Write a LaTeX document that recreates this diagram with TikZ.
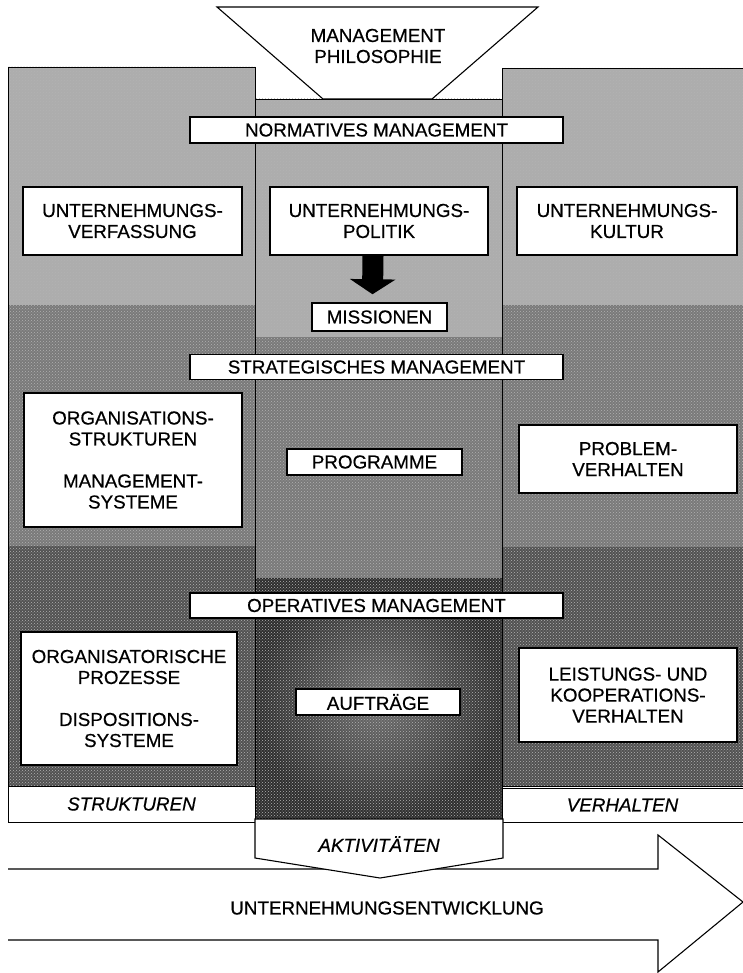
\documentclass[tikz,border=0pt]{standalone}
\usepackage{fontspec}
\setmainfont{Liberation Sans}[FakeBold=0.5]
\usepackage{tikz}
\usetikzlibrary{patterns,arrows.meta,calc,positioning}
\newcommand{\schrift}{\fontsize{18.8}{21}\selectfont}
\tikzset{
  kasten/.style={draw=black,fill=white,line width=1.5pt,align=center,inner sep=0pt,font=\schrift},
  normfl/.style={fill=black!32},
  stratfl/.style={fill=black!52},
  operfl/.style={fill=black!68},
  rauh/.style={pattern=crosshatch dots,pattern color=white!70!black},
  saum/.style={draw=black,line width=0.9pt},
  umriss/.style={draw=black,line width=1.1pt,fill=white}
}

\begin{document}
\begin{tikzpicture}[x=1pt,y=-1pt]
\useasboundingbox (0,0) rectangle (743,973);
% ebenen
\fill[normfl] (8,67) rectangle (255,305);
\fill[normfl] (255,99) rectangle (502,337);
\fill[normfl] (502,68) rectangle (743,305);
\fill[stratfl] (8,305) rectangle (255,546);
\fill[stratfl] (255,337) rectangle (502,578);
\fill[stratfl] (502,305) rectangle (743,547);
\fill[operfl] (8,546) rectangle (255,786);
\shade[inner color=black!55,outer color=black!82] (255,578) rectangle (502,819);
\fill[operfl] (502,547) rectangle (743,786);
\fill[rauh] (8,67) rectangle (255,786);
\fill[rauh] (255,99) rectangle (502,819);
\fill[rauh] (502,68) rectangle (743,786);
\draw[saum] (8,67) rectangle (255,786);
\draw[saum] (255,99) rectangle (502,819);
\draw[saum] (502,68) rectangle (743,786);
% trichter
\draw[umriss] (217,7) -- (538,7) -- (432,99) -- (323,99) -- cycle;
\node[font=\schrift,align=center] (philo) at (378,46) {MANAGEMENT\\PHILOSOPHIE};
% normativ
\node[kasten,minimum width=373pt,minimum height=26pt] (normativ) at (376.5,130) {NORMATIVES MANAGEMENT};
\node[kasten,minimum width=219pt,minimum height=68pt] (verfassung) at (132.5,221) {UNTERNEHMUNGS-\\VERFASSUNG};
\node[kasten,minimum width=218pt,minimum height=68pt] (politik) at (379,221) {UNTERNEHMUNGS-\\POLITIK};
\node[kasten,minimum width=220pt,minimum height=68pt] (kultur) at (627,221) {UNTERNEHMUNGS-\\KULTUR};
\node[kasten,minimum width=135pt,minimum height=28pt] (missionen) at (379.5,317) {MISSIONEN};
\draw[line width=21pt,-{Triangle[width=45pt,length=15pt]}] ([xshift=-6pt]politik.south) -- ([xshift=-7pt,yshift=8pt]missionen.north);
% strategisch
\node[kasten,minimum width=373pt,minimum height=25pt] (strategisch) at (376.5,367) {STRATEGISCHES MANAGEMENT};
\node[kasten,minimum width=218pt,minimum height=134pt] (organisation) at (133,460) {ORGANISATIONS-\\STRUKTUREN\\[21pt]MANAGEMENT-\\SYSTEME};
\node[kasten,minimum width=175pt,minimum height=26pt] (programme) at (374.5,462) {PROGRAMME};
\node[kasten,minimum width=218pt,minimum height=68pt] (problem) at (628,459) {PROBLEM-\\VERHALTEN};
% operativ
\node[kasten,minimum width=373pt,minimum height=25pt] (operativ) at (376.5,605.5) {OPERATIVES MANAGEMENT};
\node[kasten,minimum width=216pt,minimum height=133pt] (prozesse) at (129,698.5) {ORGANISATORISCHE\\PROZESSE\\[21pt]DISPOSITIONS-\\SYSTEME};
\node[kasten,minimum width=164pt,minimum height=26pt] (auftraege) at (378,702) {AUFTRÄGE};
\node[kasten,minimum width=218pt,minimum height=94pt] (leistung) at (628,695) {LEISTUNGS- UND\\KOOPERATIONS-\\VERHALTEN};
% unten
\node[kasten,line width=1pt,minimum width=247pt,minimum height=36pt,font=\schrift\itshape] (strukturen) at (131.5,804) {STRUKTUREN};
\node[kasten,line width=1pt,minimum width=241pt,minimum height=34pt,font=\schrift\itshape] (verhalten) at (622.5,805) {VERHALTEN};
\draw[line width=1.1pt] (8,869) -- (658,869) -- (658,835) -- (743,902) -- (658,972) -- (658,940) -- (8,940);
\node[font=\schrift] (entwicklung) at (387,908) {UNTERNEHMUNGSENTWICKLUNG};
\draw[umriss] (255,819) -- (503,819) -- (503,858) -- (380,878) -- (255,858) -- cycle;
\node[font=\schrift\itshape] (aktiv) at (379,844) {AKTIVITÄTEN};
\end{tikzpicture}
\end{document}
